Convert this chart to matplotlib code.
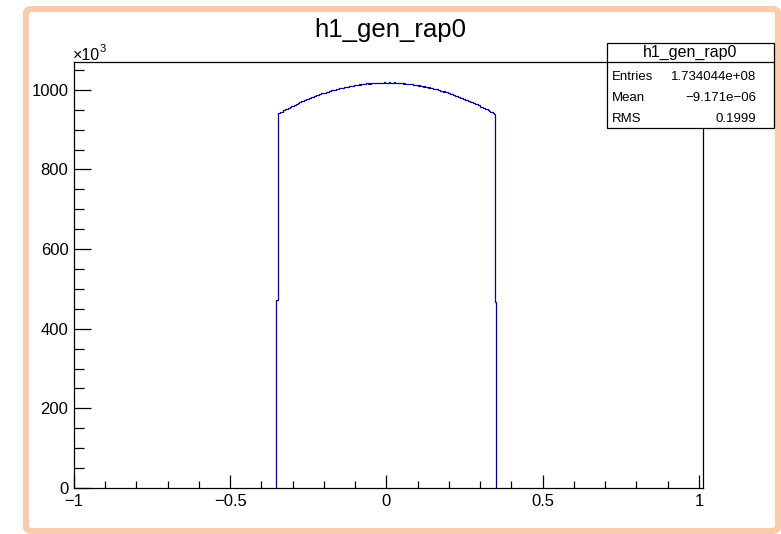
import numpy as np
import matplotlib
matplotlib.use("Agg")
import matplotlib.pyplot as plt
from matplotlib.patches import Rectangle, FancyBboxPatch

plt.rcParams['font.family'] = ['Liberation Sans', 'DejaVu Sans']

# histogram h1_gen_rap0: 500 bins on [-1, 1], only the filled range kept
bin_width = 0.004
first_edge = -0.352
# bin contents in units of 10^3, left to right
left_side = [
    471.0,
    942.6, 941.8, 944.9, 945.1, 948.3, 948.2, 951.4, 951.7, 954.6, 955.0,
    956.4, 959.3, 959.8, 962.5, 962.7, 965.6, 965.9, 968.4, 968.8, 971.3,
    971.5, 974.1, 974.2, 976.8, 976.9, 979.4, 979.5, 981.9, 981.8, 984.3,
    984.2, 986.7, 986.6, 988.9, 988.8, 991.1, 991.0, 993.2, 993.0, 995.1,
    995.0, 997.2, 996.9, 999.0, 998.8, 1000.8, 1000.4, 1002.5, 1002.1, 1004.0,
    1003.6, 1005.5, 1005.1, 1007.0, 1006.5, 1008.4, 1007.8, 1009.6, 1009.1, 1010.7,
    1010.2, 1011.9, 1011.3, 1012.9, 1012.2, 1013.8, 1013.1, 1014.6, 1013.9, 1015.4,
    1014.7, 1016.1, 1015.3, 1016.7, 1015.9, 1017.2, 1016.4, 1017.7, 1016.8, 1018.0,
    1017.1, 1018.3, 1017.4, 1018.5, 1017.5, 1018.6, 1017.7,
]
right_side = [
    1018.4, 1017.6, 1019.2, 1017.5, 1018.3, 1017.2, 1018.9, 1016.9, 1017.6, 1016.7,
    1017.3, 1016.1, 1016.8, 1015.6, 1016.2, 1015.0, 1015.6, 1014.3, 1014.9, 1013.5,
    1014.1, 1012.7, 1013.2, 1011.8, 1012.3, 1010.6, 1011.2, 1009.5, 1010.1, 1008.4,
    1008.9, 1007.1, 1007.6, 1005.7, 1006.2, 1004.3, 1004.7, 1002.8, 1003.2, 1001.2,
    1001.5, 999.5, 999.8, 997.7, 998.0, 995.9, 996.1, 993.9, 994.1, 991.9,
    992.1, 989.8, 989.9, 987.6, 987.7, 985.4, 985.4, 983.0, 983.0, 980.6,
    980.5, 978.1, 978.0, 975.5, 975.3, 972.8, 972.6, 970.0, 969.8, 967.2,
    966.9, 964.2, 963.9, 961.2, 960.9, 958.1, 957.7, 954.9, 954.5, 951.7,
    951.2, 948.3, 947.8, 944.9, 944.3, 941.4, 939.6,
    468.0,
]
counts = np.array(left_side + right_side)
edges = first_edge + bin_width * np.arange(len(counts) + 1)

x_ticks = [-1, -0.5, 0, 0.5, 1]
x_labels = ["\u22121", "\u22120.5", "0", "0.5", "1"]
y_ticks = [0, 200, 400, 600, 800, 1000]
y_labels = ["0", "200", "400", "600", "800", "1000"]

stats_title = "h1_gen_rap0"
stats_names = ["Entries", "Mean", "RMS"]
stats_values = ["1.734044e+08", "\u22129.171e\u221206", "0.1999"]

W, H = 781, 534
fig = plt.figure(figsize=(W / 100, H / 100), dpi=100)
fig.patch.set_facecolor("white")

# peach frame around the canvas
frame = FancyBboxPatch((26 / W, 3 / H), 752 / W, 522 / H,
                       boxstyle="round,pad=0,rounding_size=0.008",
                       transform=fig.transFigure, facecolor="none",
                       edgecolor="#F8CBAD", linewidth=4.4, zorder=0)
fig.patches.append(frame)

ax = fig.add_axes([74 / W, 1 - 488 / H, 629 / W, 426 / H])
ax.stairs(counts, edges, baseline=0, color="#000099", linewidth=0.9)
ax.set_xlim(-1, 1.013)
ax.set_ylim(0, 1070)
ax.set_xticks(x_ticks, x_labels)
ax.set_yticks(y_ticks, y_labels)
ax.set_xticks(np.arange(-1, 1.01, 0.1), minor=True)
ax.set_yticks(np.arange(0, 1070, 50), minor=True)
ax.tick_params(which="both", direction="in", top=False, right=False,
               labelsize=12, width=0.9, color="black")
ax.tick_params(axis="x", which="major", length=9.5, pad=4)
ax.tick_params(axis="x", which="minor", length=5)
ax.tick_params(axis="y", which="major", length=12, pad=4)
ax.tick_params(axis="y", which="minor", length=7.5)
for s in ax.spines.values():
    s.set_linewidth(0.9)

fig.text(73 / W, 1 - 60 / H, "\u00d710", fontsize=11.5, ha="left", va="baseline")
fig.text(100 / W, 1 - 52 / H, "3", fontsize=8, ha="left", va="baseline")
fig.text(390 / W, 1 - 37 / H, "h1_gen_rap0", fontsize=18.5, ha="center", va="baseline")

# stats box
bx0, bx1, by0, by1 = 607 / W, 774 / W, 1 - 128 / H, 1 - 43 / H
fig.patches.append(Rectangle((bx0, by0), bx1 - bx0, by1 - by0, transform=fig.transFigure,
                             facecolor="white", edgecolor="black", linewidth=0.9, zorder=2))
fig.lines.append(plt.Line2D([bx0, bx1], [1 - 62 / H, 1 - 62 / H], transform=fig.transFigure,
                            color="black", linewidth=0.9, zorder=3))
fig.text((bx0 + bx1) / 2, 1 - 57 / H, stats_title, fontsize=11.5, ha="center", va="baseline", zorder=4)
row_y = [80, 101, 122]
for name, val, ry in zip(stats_names, stats_values, row_y):
    fig.text(612 / W, 1 - ry / H, name, fontsize=9.5, ha="left", va="baseline", zorder=4)
    fig.text(756 / W, 1 - ry / H, val, fontsize=9.5, ha="right", va="baseline", zorder=4)

fig.savefig("out.png", dpi=100)
